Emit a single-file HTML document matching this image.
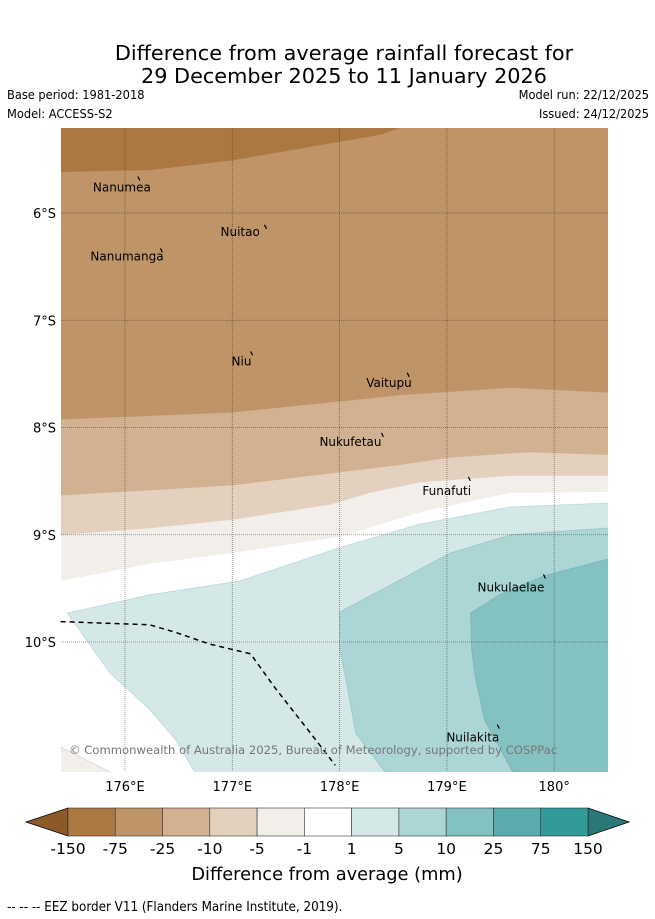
<!DOCTYPE html>
<html><head><meta charset="utf-8"><style>
body{margin:0;background:#fff;width:655px;height:919px;overflow:hidden}
svg{display:block}
text{font-family:"DejaVu Sans","Liberation Sans",sans-serif}
.hd{font-size:12.7px;font-stretch:condensed;font-family:"DejaVu Sans Condensed","DejaVu Sans",sans-serif}
</style></head><body>
<svg id="chart" width="655" height="919" viewBox="0 0 655 919" xmlns="http://www.w3.org/2000/svg">
<text x="344" y="60" font-size="20.8" text-anchor="middle">Difference from average rainfall forecast for</text>
<text x="344" y="83" font-size="20.8" text-anchor="middle">29 December 2025 to 11 January 2026</text>
<text class="hd" x="7" y="99">Base period: 1981-2018</text>
<text class="hd" x="7" y="118">Model: ACCESS-S2</text>
<text class="hd" x="649" y="99" text-anchor="end">Model run: 22/12/2025</text>
<text class="hd" x="649" y="118" text-anchor="end">Issued: 24/12/2025</text>
<defs><clipPath id="clip"><rect x="61" y="128" width="547" height="644"/></clipPath></defs>
<g id="map" clip-path="url(#clip)"></g>
<g id="overlay"></g>
<g id="axes"></g>
<g id="cbar"></g>
<text x="327" y="880" font-size="17.8" text-anchor="middle">Difference from average (mm)</text>
<text class="hd" x="7" y="911" style="font-size:13.3px">-- -- -- EEZ border V11 (Flanders Marine Institute, 2019).</text>
</svg>
<script>
const lonTicks=[176,177,178,179,180];
const latTicks=[6,7,8,9,10];
const cbLevels=["-150","-75","-25","-10","-5","-1","1","5","10","25","75","150"];
const cbColors=["#ac7841","#c09469","#d2b191","#e3d0bf","#f2eee9","#ffffff","#d5e8e8","#acd5d6","#84c2c2","#5aacac","#339a9a"];
const bnd150=[[175.3,5.62],[176.23,5.60],[177.0,5.51],[178.38,5.27],[178.56,5.21],[178.6,5.1]];
const bnd75=[[175.3,7.93],[177.0,7.86],[178.56,7.70],[179.59,7.63],[180.6,7.68]];
const bnd25=[[175.3,8.64],[177.0,8.54],[178.56,8.35],[179.03,8.28],[179.77,8.23],[180.6,8.26]];
const bnd10=[[175.3,9.01],[176.23,8.94],[177.0,8.86],[177.91,8.72],[178.28,8.61],[178.75,8.51],[179.59,8.45],[180.6,8.45]];
const bnd5=[[175.3,9.45],[176.23,9.27],[177.07,9.16],[178.0,9.02],[178.75,8.79],[179.59,8.61],[180.6,8.60]];
const poly1=[[175.46,9.73],[176.23,9.56],[177.07,9.43],[178.0,9.12],[178.75,8.90],[179.59,8.74],[180.6,8.70],[180.6,11.3],[176.7,11.3],[176.47,10.91],[176.23,10.63],[175.86,10.29]];
const poly5=[[178.0,9.72],[179.03,9.17],[179.59,9.0],[180.6,8.93],[180.6,11.3],[178.42,11.21],[178.15,10.85],[178.05,10.31],[178.0,10.07]];
const poly10=[[179.22,9.73],[179.49,9.56],[179.91,9.38],[180.6,9.20],[180.6,11.3],[179.61,11.21],[179.35,10.73],[179.26,10.31],[179.23,10.07]];
const polyLL=[[175.3,10.93],[175.86,11.21],[175.86,11.3],[175.3,11.3]];
const eez=[[175.4,9.81],[176.23,9.84],[176.47,9.91],[176.79,10.02],[177.17,10.11],[177.4,10.43],[177.73,10.85],[177.96,11.15]];
const places=["Nanumea","Nuitao","Nanumanga","Niu","Vaitupu","Nukufetau","Funafuti","Nukulaelae","Nuilakita"];
const placeLon=[176.12,177.3,176.33,177.17,178.63,178.39,179.2,179.9,179.47];
const placeLat=[5.66,6.11,6.33,7.29,7.49,8.05,8.46,9.37,10.77];
const labDx=[-45,-44,-70,-19,-41,-62,-46,-66,-51];
const labDy=[15,11,12,14,14,13,18,17,17];

const X=lon=>125+(lon-176)*107.3;
const Y=lat=>213+(lat-6)*107.25;
const NS="http://www.w3.org/2000/svg";
function mk(tag,attrs,parent){const e=document.createElementNS(NS,tag);for(const k in attrs)e.setAttribute(k,attrs[k]);parent.appendChild(e);return e;}
const pts=a=>a.map(p=>X(p[0]).toFixed(1)+","+Y(p[1]).toFixed(1)).join(" ");
const map=document.getElementById('map');
let r=mk('rect',{x:61,y:128,width:547,height:644,fill:'#fff'},map);


const above=[[bnd5,4,'region-minus5'],[bnd10,3,'region-minus10'],[bnd25,2,'region-minus25'],[bnd75,1,'region-minus75'],[bnd150,0,'region-minus150']];
above.forEach(([b,ci,nm])=>{
  const p=pts(b)+" "+X(180.6)+",120 "+X(175.3)+",120";
  const e=mk('polygon',{points:p,fill:cbColors[ci]},map);
  
  
});
[[polyLL,4,'region-minus5-sw'],[poly1,6,'region-plus1'],[poly5,7,'region-plus5'],[poly10,8,'region-plus10']].forEach(([pl,ci,nm])=>{
  const e=mk('polygon',{points:pts(pl),fill:cbColors[ci],stroke:'rgba(0,80,80,0.15)','stroke-width':0.8},map);
  
  
});
const ov=document.getElementById('overlay');
lonTicks.forEach(l=>{const e=mk('line',{x1:X(l),x2:X(l),y1:128,y2:772,stroke:'rgba(40,30,20,0.55)','stroke-width':0.8,'stroke-dasharray':'1,1'},ov);

});
latTicks.forEach(l=>{const e=mk('line',{x1:61,x2:608,y1:Y(l),y2:Y(l),stroke:'rgba(40,30,20,0.55)','stroke-width':0.8,'stroke-dasharray':'1,1'},ov);

});
let eze=mk('polyline',{points:pts(eez),fill:'none',stroke:'#000','stroke-width':1.5,'stroke-dasharray':'5,4'},ov);


places.forEach((n,i)=>{
  const x=X(placeLon[i]),y=Y(placeLat[i]);
  const m=mk('line',{x1:x,y1:y,x2:x+2,y2:y+4,stroke:'#000','stroke-width':1.2},ov);
  
  
  const t=mk('text',{x:x+labDx[i],y:y+labDy[i],'font-size':12},ov);
  t.textContent=n;
  
  
});
const cr=mk('text',{x:69,y:754,'font-size':11.6,fill:'#777'},ov);
cr.textContent="© Commonwealth of Australia 2025, Bureau of Meteorology, supported by COSPPac";


const ax=document.getElementById('axes');
lonTicks.forEach(l=>{const t=mk('text',{x:X(l),y:791,'font-size':13,'text-anchor':'middle'},ax);t.textContent=(l==180?"180°":l+"°E");

});
latTicks.forEach(l=>{const t=mk('text',{x:56,y:Y(l)+5,'font-size':13,'text-anchor':'end'},ax);t.textContent=l+"°S";

});
const cb=document.getElementById('cbar');
const x0=68,x1=588,y0=808,h=28,w=(x1-x0)/cbColors.length;
let a1=mk('polygon',{points:`${x0},${y0} ${x0},${y0+h} 26,${y0+h/2}`,fill:'#8c5a28',stroke:'#000','stroke-width':0.8},cb);


let a2=mk('polygon',{points:`${x1},${y0} ${x1},${y0+h} 629,${y0+h/2}`,fill:'#2a7777',stroke:'#000','stroke-width':0.8},cb);


cbColors.forEach((c,i)=>{const e=mk('rect',{x:x0+i*w,y:y0,width:w,height:h,fill:c,stroke:'#333','stroke-width':0.6},cb);

});
cbLevels.forEach((s,i)=>{const t=mk('text',{x:x0+i*w,y:854,'font-size':15.5,'text-anchor':'middle'},cb);t.textContent=s;

});
</script>
</body></html>
